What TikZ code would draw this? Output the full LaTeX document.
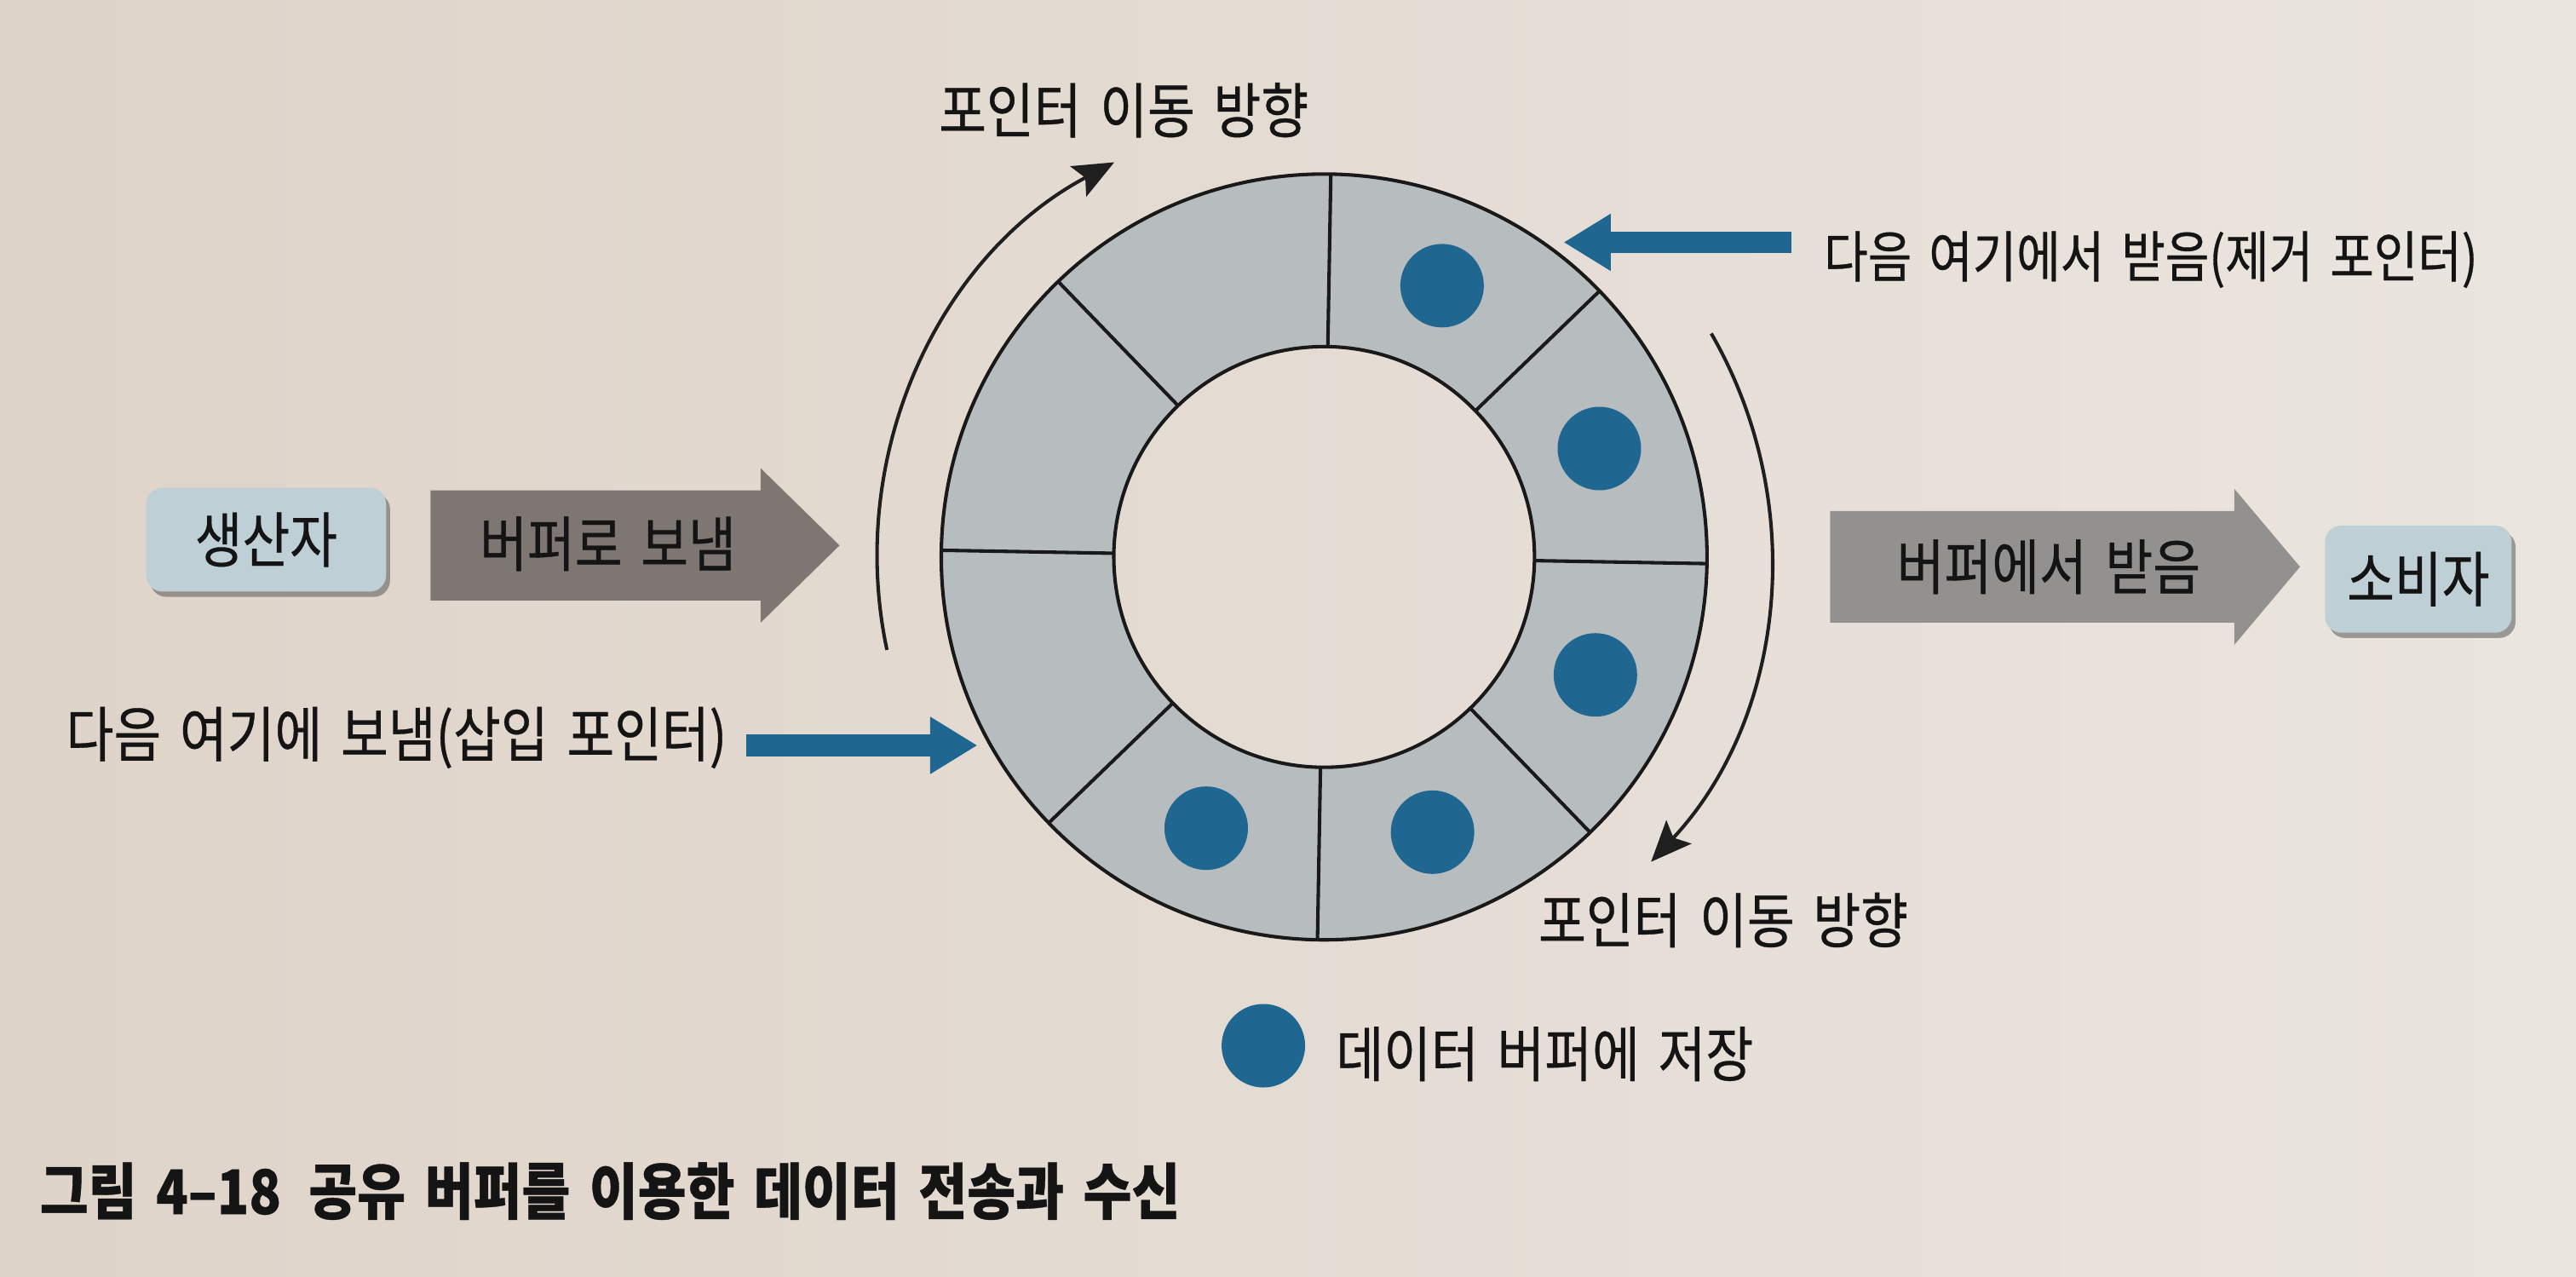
\documentclass[tikz,border=0pt]{standalone}
\usepackage{fontspec}
\setmainfont{Noto Sans CJK KR}[FakeStretch=0.86,WordSpace=1.6,FakeBold=0.5]
\usetikzlibrary{arrows.meta,shadows,calc}
\definecolor{blu}{RGB}{31,102,145}
\definecolor{ringc}{RGB}{183,188,190}
\definecolor{sendc}{RGB}{126,118,114}
\definecolor{recvc}{RGB}{146,145,144}
\definecolor{boxc}{RGB}{190,207,214}
\definecolor{pl}{RGB}{218,204,192}
\definecolor{pm}{RGB}{227,218,209}
\definecolor{pr}{RGB}{237,233,228}
\definecolor{pe}{RGB}{185,183,181}
\pgfdeclarehorizontalshading{paper}{100bp}{color(0bp)=(pl); color(45bp)=(pm); color(85bp)=(pr); color(96bp)=(pr); color(100bp)=(pe)}
\begin{document}
\begin{tikzpicture}[x=0.025cm,y=0.025cm,
  txt/.style={inner sep=0pt, text=black!92, font=\fontsize{26}{30}\selectfont},
  boxnode/.style={fill=boxc, rounded corners=0.25cm, minimum width=3.65cm, minimum height=1.58cm, inner sep=0pt, text=black!92, font=\fontsize{26}{30}\selectfont, drop shadow={shadow xshift=0.06cm, shadow yshift=-0.08cm, opacity=0.5, fill=black!70}},
  ringline/.style={line width=1.5pt, draw=black!90},
  motion/.style={line width=1.5pt, draw=black!88, -{Stealth[length=0.62cm,width=0.52cm,inset=0.12cm]}},
  ptr/.style={line width=0.33cm, draw=blu, -{Triangle[length=0.72cm,width=0.82cm]}},
  dot/.style={circle, fill=blu, minimum size=1.27cm, inner sep=0pt},
]
\useasboundingbox (0,0) rectangle (1568,777);
\shade[shading=paper] (0,0) rectangle (1568,777);

% ring buffer
\coordinate (c) at (806,438);
\fill[ringc, even odd rule] (c) circle[radius=5.825cm] (c) circle[radius=3.2cm];
\foreach \a in {89,44,-1,-46,-91,-136,179,134}
  \draw[ringline] ($(c)+(\a:3.2cm)$) -- ($(c)+(\a:5.825cm)$);
\draw[ringline] (c) circle[radius=5.825cm];
\draw[ringline] (c) circle[radius=3.2cm];
\foreach \a/\n in {66.5/1,21.5/2,-23.5/3,-68.5/4,-113.5/5}
  \node[dot] (d\n) at ($(c)+(\a:4.5cm)$) {};

% pointer motion arcs
\draw[motion] ($(c)+(192:6.8cm)$) arc[start angle=192, end angle=118, radius=6.8cm];
\draw[motion] ($(c)+(30:6.8cm)$) arc[start angle=30, end angle=-43, radius=6.8cm];
\node[txt] (mv1) at (684,710) {포인터 이동 방향};
\node[txt] (mv2) at (1049,217) {포인터 이동 방향};

% block arrows
\fill[sendc] (262,411.5) -- (463,411.5) -- (463,398) -- (511,445) -- (463,492) -- (463,478.5) -- (262,478.5) -- cycle;
\node[txt] (send) at (370,446) {버퍼로 보냄};
\fill[recvc] (1114,398) -- (1360,398) -- (1360,384.5) -- (1400,432) -- (1360,479.5) -- (1360,466) -- (1114,466) -- cycle;
\node[txt] (recv) at (1247,432) {버퍼에서 받음};

% producer / consumer
\node[boxnode] (prod) at (162,448.5) {생산자};
\node[boxnode, minimum width=2.84cm, minimum height=1.63cm] (cons) at (1472,424.5) {소비자};

% pointers
\node[txt, anchor=west, font=\fontsize{24}{28}\selectfont] (rm) at (1110,619) {다음 여기에서 받음(제거 포인터)};
\coordinate (rmtail) at (1090.5,629.5);
\coordinate (rmtip) at (951.7,629.5);
\draw[ptr] (rmtail) -- (rmtip);
\node[txt, anchor=west] (ins) at (40,328) {다음 여기에 보냄(삽입 포인터)};
\coordinate (instail) at (454,323.3);
\coordinate (instip) at (595,323.3);
\draw[ptr] (instail) -- (instip);

% legend
\node[dot] (ld) at (769,140.5) {};
\node[txt, anchor=west] (lt) at (813,135.5) {데이터 버퍼에 저장};

% caption
\node[txt, anchor=west, font=\bfseries\fontsize{26.5}{30}\selectfont] (cap) at (24,52) {그림 4–18\hspace{0.45em}공유 버퍼를 이용한 데이터 전송과 수신};
\end{tikzpicture}
\end{document}
